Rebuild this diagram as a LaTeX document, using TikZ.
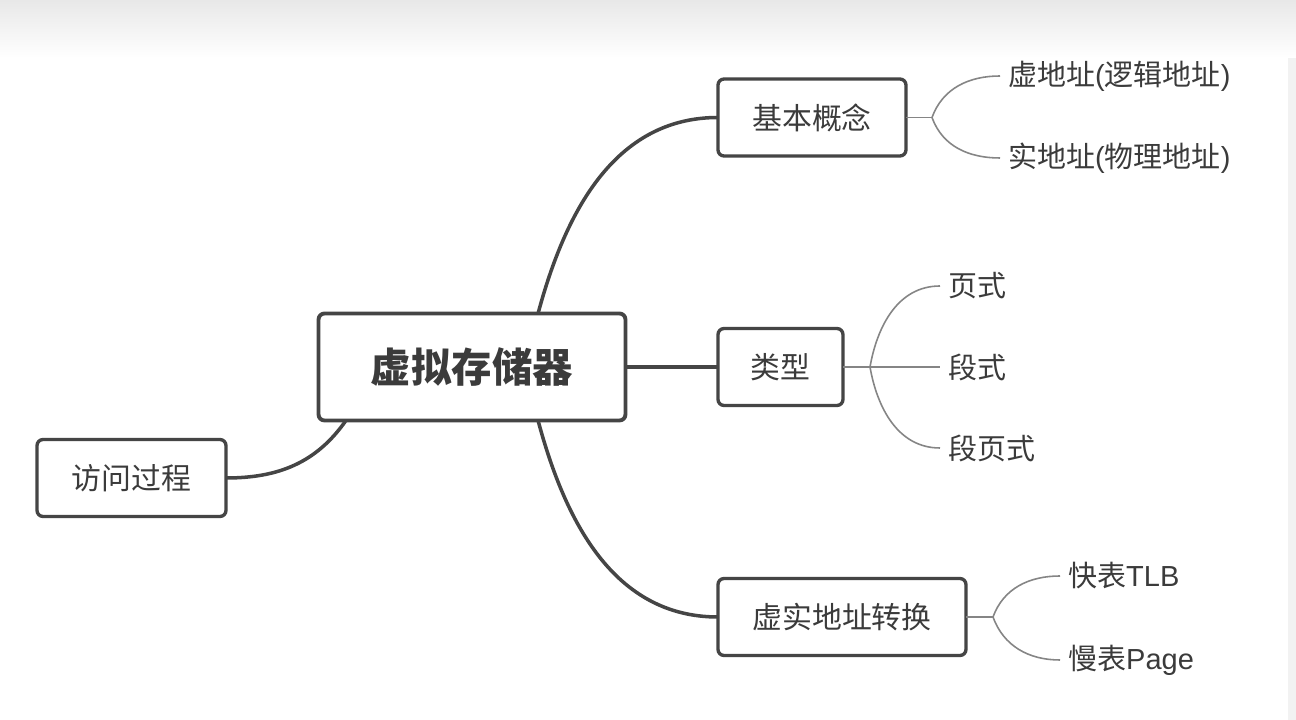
\documentclass[tikz,border=0pt]{standalone}
\usepackage{fontspec}
\setmainfont{Noto Sans CJK SC}
\newfontfamily\latinsans{Liberation Sans}
\definecolor{inkgray}{HTML}{3B3B3B}
\definecolor{boxgray}{HTML}{454545}
\definecolor{twiggray}{HTML}{858585}
\begin{document}
\begin{tikzpicture}[x=0.02cm,y=0.02cm,
  rootbox/.style={draw=boxgray,line width=2.2pt,rounded corners=0.12cm,fill=white,
    text=inkgray,font=\fontsize{23}{28}\selectfont\bfseries,
    minimum width=6.14cm,minimum height=2.14cm,outer sep=0pt},
  topicbox/.style={draw=boxgray,line width=1.9pt,rounded corners=0.12cm,fill=white,
    text=inkgray,font=\fontsize{17}{20}\selectfont,
    minimum height=1.54cm,outer sep=0pt},
  leaf/.style={anchor=west,text=inkgray,font=\fontsize{16.5}{20}\selectfont,
    inner xsep=4.5pt,inner ysep=0pt},
  branch/.style={draw=boxgray,line width=2pt},
  twig/.style={draw=twiggray,line width=0.9pt}]

  % Canvas and screen edges
  \useasboundingbox (0,0) rectangle (1296,720);
  \fill[white] (0,0) rectangle (1296,720);
  \fill[black!5] (1288,0) rectangle (1296,720);
  \shade[top color=black!9,bottom color=white] (0,662) rectangle (1296,720);

  % Main topics
  \node[rootbox] (root) at (472,353) {虚拟存储器};
  \node[topicbox,minimum width=3.76cm] (basic) at (812,602.5) {基本概念};
  \node[topicbox,minimum width=2.5cm] (kind) at (780.5,353) {类型};
  \node[topicbox,minimum width=4.96cm] (trans) at (842,103) {虚实地址转换};
  \node[topicbox,minimum width=3.78cm] (visit) at (131.5,242) {访问过程};

  % Main branches
  \draw[branch] (root.39) to[out=75,in=180] (basic.west);
  \draw[branch] (root.east) -- (kind.west);
  \draw[branch] (root.-39) to[out=-75,in=180] (trans.west);
  \draw[branch] (root.203) to[out=235,in=0] (visit.east);

  % Leaves
  \node[leaf] (vaddr) at (1000,644) {虚地址{\latinsans(}逻辑地址{\latinsans)}};
  \node[leaf] (raddr) at (1000,562) {实地址{\latinsans(}物理地址{\latinsans)}};
  \node[leaf] (paged) at (940,434) {页式};
  \node[leaf] (segd) at (940,353) {段式};
  \node[leaf] (segpaged) at (940,272) {段页式};
  \node[leaf] (tlb) at (1060,144) {快表{\latinsans TLB}};
  \node[leaf] (pagetab) at (1060,60) {慢表{\latinsans Page}};

  % Forks
  \coordinate (basicfork) at (932,602.5);
  \coordinate (kindfork) at (870,353);
  \coordinate (transfork) at (993,103);

  \draw[twig] (basic.east) -- (basicfork);
  \draw[twig] (basicfork) to[out=70,in=180] (vaddr.west);
  \draw[twig] (basicfork) to[out=-70,in=180] (raddr.west);

  \draw[twig] (kind.east) -- (kindfork) -- (segd.west);
  \draw[twig] (kindfork) to[out=80,in=180] (paged.west);
  \draw[twig] (kindfork) to[out=-80,in=180] (segpaged.west);

  \draw[twig] (trans.east) -- (transfork);
  \draw[twig] (transfork) to[out=70,in=180] (tlb.west);
  \draw[twig] (transfork) to[out=-70,in=180] (pagetab.west);
\end{tikzpicture}
\end{document}
